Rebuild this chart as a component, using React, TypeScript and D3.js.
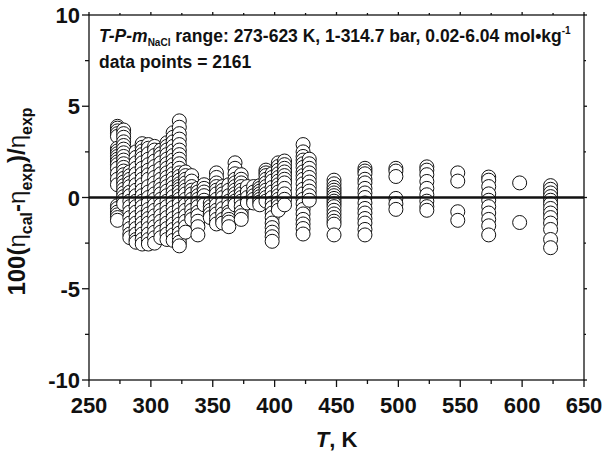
import React from 'react';
import * as d3 from 'd3';

// Temperatures (K) of the measured isotherms
const temperatures = [273, 278, 283, 288, 293, 298, 303, 308, 313, 318, 323, 328, 333, 338, 343, 348, 353, 358, 363, 368, 373, 378, 383, 388, 393, 398, 403, 408, 423, 428, 448, 473, 498, 523, 548, 573, 598, 623];

// Relative deviations 100(η_cal-η_exp)/η_exp for each temperature
const deviations: number[][] = [
  [3.9, 3.8, 3.65, 3.5, 3.35, 2.7, 2.55, 2.4, 2.25, 2.1, 1.95, 1.8, 1.6, 1.3, 1.0, 0.7, -0.45, -0.6, -0.8, -0.95, -1.1, -1.25],
  [3.7, 3.5, 3.3, 3.05, 2.85, 2.65, 2.45, 2.25, 2.05, 1.85, 1.65, 1.45, 1.25, 1.05, 0.85, 0.65, 0.45, 0.25, 0.05, -0.15, -0.35],
  [1.4, 1.2, 1.0, 0.8, 0.6, 0.3, 0.1, -0.2, -0.5, -0.8, -1.1, -1.4, -1.7, -2.0, -2.2],
  [2.5, 2.2, 1.9, 1.6, 1.3, 1.0, 0.7, 0.4, 0.1, -0.2, -0.5, -0.8, -1.1, -1.4, -1.7, -2.0, -2.3, -2.45],
  [2.95, 2.75, 2.55, 2.35, 2.15, 1.9, 1.6, 1.3, 1.0, 0.7, 0.4, 0.1, -0.2, -0.5, -0.8, -1.1, -1.4, -1.7, -2.0, -2.3, -2.55],
  [2.9, 2.7, 2.4, 2.1, 1.8, 1.5, 1.25, 1.0, 0.6, 0.3, 0.0, -0.3, -0.65, -0.9, -1.15, -1.4, -1.7, -2.0, -2.3, -2.55],
  [2.8, 2.6, 2.3, 2.0, 1.7, 1.4, 1.1, 0.8, 0.5, 0.2, -0.1, -0.4, -0.7, -1.0, -1.3, -1.6, -1.9, -2.2, -2.5],
  [2.6, 2.4, 2.2, 1.9, 1.6, 1.3, 1.0, 0.7, 0.45, 0.2, -0.1, -0.4, -0.7, -1.0, -1.3, -1.6, -1.9, -2.2],
  [3.0, 2.8, 2.6, 2.35, 2.1, 1.85, 1.6, 1.35, 1.1, 0.85, 0.6, 0.35, 0.1, -0.2, -0.5, -0.8, -1.1, -1.4, -1.7, -2.0, -2.3],
  [3.55, 3.3, 3.05, 2.8, 2.55, 2.3, 2.05, 1.8, 1.55, 1.3, 1.05, 0.8, 0.55, 0.3, 0.05, -0.25, -0.55, -0.85, -1.15, -1.45, -1.75, -2.05, -2.35],
  [4.2, 3.85, 3.5, 3.2, 2.9, 2.6, 2.35, 2.1, 1.85, 1.6, 1.35, 1.15, 0.95, 0.75, 0.6, 0.45, 0.3, 0.1, -0.1, -0.35, -0.65, -0.95, -1.2, -1.45, -1.7, -1.95, -2.2, -2.45, -2.65],
  [1.4, 1.2, 1.0, 0.8, 0.6, 0.4, 0.2, -0.1, -0.4, -0.7, -1.0, -1.3, -1.6, -1.9],
  [1.2, 0.9, 0.6, 0.4, 0.2, -0.1, -0.4, -0.7, -1.0, -1.2],
  [0.5, 0.3, 0.1, -0.1, -0.3, -0.5, -0.8, -1.0, -1.3, -1.6, -2.05],
  [0.7, 0.5, 0.3, 0.1, -0.15, -0.4],
  [-0.3, -0.5, -0.7, -0.9, -1.1],
  [1.35, 1.1, 0.8, 0.6, 0.4, 0.2, -0.1, -0.4, -0.7, -0.9, -1.2, -1.45],
  [0.6, 0.4, 0.2, 0.0, -0.3, -0.6, -0.9, -1.2, -1.4],
  [0.7, 0.4, 0.1, -0.2, -0.5, -0.8, -0.95, -1.2, -1.35, -1.6],
  [1.9, 1.6, 1.3, 1.0, 0.8, 0.6, 0.4, 0.2, 0.0, -0.2, -0.4],
  [1.25, 1.0, 0.8, 0.6, 0.4, 0.2, 0.0, -0.2, -0.5, -0.8, -1.0, -1.2],
  [0.6, 0.3, 0.0, -0.3],
  [0.6, 0.3, 0.1, -0.1, -0.3],
  [0.65, 0.5, 0.35, 0.2, 0.05, -0.1, -0.25, -0.4],
  [1.5, 1.35, 1.2, 1.0, 0.8, 0.6, 0.4, 0.2, 0.0, -0.2],
  [1.3, 1.1, 0.9, 0.55, 0.3, 0.0, -0.3, -0.55, -0.85, -1.1, -1.4, -1.65, -1.9, -2.15, -2.4],
  [1.9, 1.7, 1.5, 1.3, 1.1, 0.9, 0.7, 0.5, 0.3, 0.1, -0.1, -0.3, -0.5, -0.7],
  [2.0, 1.8, 1.6, 1.4, 1.2, 1.0, 0.8, 0.5, 0.2, -0.1, -0.4],
  [2.9, 2.5, 2.25, 2.05, 1.85, 1.65, 1.4, 1.2, 1.0, 0.75, 0.45, 0.2, -0.1, -0.35, -0.65, -0.9, -1.2, -1.45, -1.7, -2.0],
  [2.1, 1.85, 1.6, 1.35, 1.1, 0.85, 0.6, 0.35, 0.1, -0.15],
  [0.95, 0.75, 0.55, 0.4, 0.25, 0.1, -0.05, -0.2, -0.35, -0.5, -0.7, -0.9, -1.1, -1.3, -1.46, -2.05],
  [1.6, 1.45, 1.3, 1.0, 0.8, 0.5, 0.25, 0.0, -0.3, -0.6, -0.85, -1.15, -1.4, -1.75, -2.05],
  [1.6, 1.45, 1.15, -0.05, -0.35, -0.65],
  [1.68, 1.5, 1.25, 0.88, 0.5, 0.15, -0.2, -0.5, -0.7],
  [1.35, 0.9, -0.78, -1.25],
  [1.12, 0.95, 0.6, 0.2, -0.15, -0.5, -0.85, -1.2, -1.55, -2.05],
  [0.8, -1.37],
  [0.65, 0.45, 0.25, 0.05, -0.15, -0.35, -0.6, -0.85, -1.1, -1.4, -1.75, -2.3, -2.75],
];

const xMajorTicks = [250, 300, 350, 400, 450, 500, 550, 600, 650];
const xMinorTicks = [275, 325, 375, 425, 475, 525, 575, 625];
const yMajorTicks = [-10, -5, 0, 5, 10];
const yMinorTicks = [-7.5, -2.5, 2.5, 7.5];

const W = 603;
const H = 453;
const L = 89, R = 584, T = 15, B = 380;
const FONT = "'Liberation Sans', Arial, Helvetica, sans-serif";

export default function App() {
  const x = d3.scaleLinear().domain([250, 650]).range([L, R]);
  const y = d3.scaleLinear().domain([-10, 10]).range([B, T]);

  const points: { t: number; v: number }[] = [];
  temperatures.forEach((t, i) => {
    deviations[i].forEach((v) => points.push({ t, v }));
  });

  return (
    <svg width={W} height={H} style={{ position: 'absolute', left: 0, top: 0, background: '#fff' }} fontFamily={FONT}>
      <rect x={0} y={0} width={W} height={H} fill="#fff" />
      <g>
        {points.map((p, i) => (
          <circle key={i} cx={x(p.t)} cy={y(p.v)} r={7} fill="#fff" stroke="#111" strokeWidth={1} />
        ))}
      </g>
      <line x1={L} x2={R} y1={y(0)} y2={y(0)} stroke="#111" strokeWidth={2.5} />
      <rect x={L} y={T} width={R - L} height={B - T} fill="none" stroke="#111" strokeWidth={1.3} />
      {xMajorTicks.map((t) => (
        <g key={'xb' + t}>
          <line x1={x(t)} x2={x(t)} y1={B} y2={B + 7} stroke="#111" strokeWidth={1.3} />
          <line x1={x(t)} x2={x(t)} y1={T} y2={T - 3} stroke="#111" strokeWidth={1.3} />
          <text x={x(t)} y={B + 33} textAnchor="middle" fontSize={22} fontWeight="bold" fill="#111">{t}</text>
        </g>
      ))}
      {xMinorTicks.map((t) => (
        <g key={'xm' + t}>
          <line x1={x(t)} x2={x(t)} y1={B} y2={B + 4} stroke="#111" strokeWidth={1.3} />
          <line x1={x(t)} x2={x(t)} y1={T} y2={T - 2} stroke="#111" strokeWidth={1.3} />
        </g>
      ))}
      {yMajorTicks.map((t) => (
        <g key={'yl' + t}>
          <line x1={L} x2={L - 7} y1={y(t)} y2={y(t)} stroke="#111" strokeWidth={1.3} />
          <line x1={R} x2={R + 3} y1={y(t)} y2={y(t)} stroke="#111" strokeWidth={1.3} />
          <text x={L - 9} y={y(t) + 8} textAnchor="end" fontSize={22} fontWeight="bold" fill="#111">{t}</text>
        </g>
      ))}
      {yMinorTicks.map((t) => (
        <g key={'ym' + t}>
          <line x1={L} x2={L - 4} y1={y(t)} y2={y(t)} stroke="#111" strokeWidth={1.3} />
          <line x1={R} x2={R + 2} y1={y(t)} y2={y(t)} stroke="#111" strokeWidth={1.3} />
        </g>
      ))}
      <text x={(L + R) / 2} y={447} textAnchor="middle" fontSize={22} fontWeight="bold" fill="#111">
        <tspan fontStyle="italic">T</tspan>, K
      </text>
      <text transform={`translate(25, ${(T + B) / 2 + 4}) rotate(-90)`} textAnchor="middle" fontSize={24} fontWeight="bold" fill="#111">
        100(<tspan fontWeight="normal">η</tspan><tspan fontSize={16} dy={7}>cal</tspan><tspan dy={-7}>-</tspan><tspan fontWeight="normal">η</tspan><tspan fontSize={16} dy={7}>exp</tspan><tspan dy={-7}>)/</tspan><tspan fontWeight="normal">η</tspan><tspan fontSize={16} dy={7}>exp</tspan>
      </text>
      <text x={99} y={42} fontSize={17.5} fontWeight="bold" fill="#111">
        <tspan fontStyle="italic">T-P-m</tspan><tspan fontSize={10} dy={4}>NaCl</tspan><tspan dy={-4}> range: 273-623 K, 1-314.7 bar, 0.02-6.04 mol•kg</tspan><tspan fontSize={10} dy={-8}>-1</tspan>
      </text>
      <text x={99} y={68} fontSize={17.5} fontWeight="bold" fill="#111">data points = 2161</text>
    </svg>
  );
}
